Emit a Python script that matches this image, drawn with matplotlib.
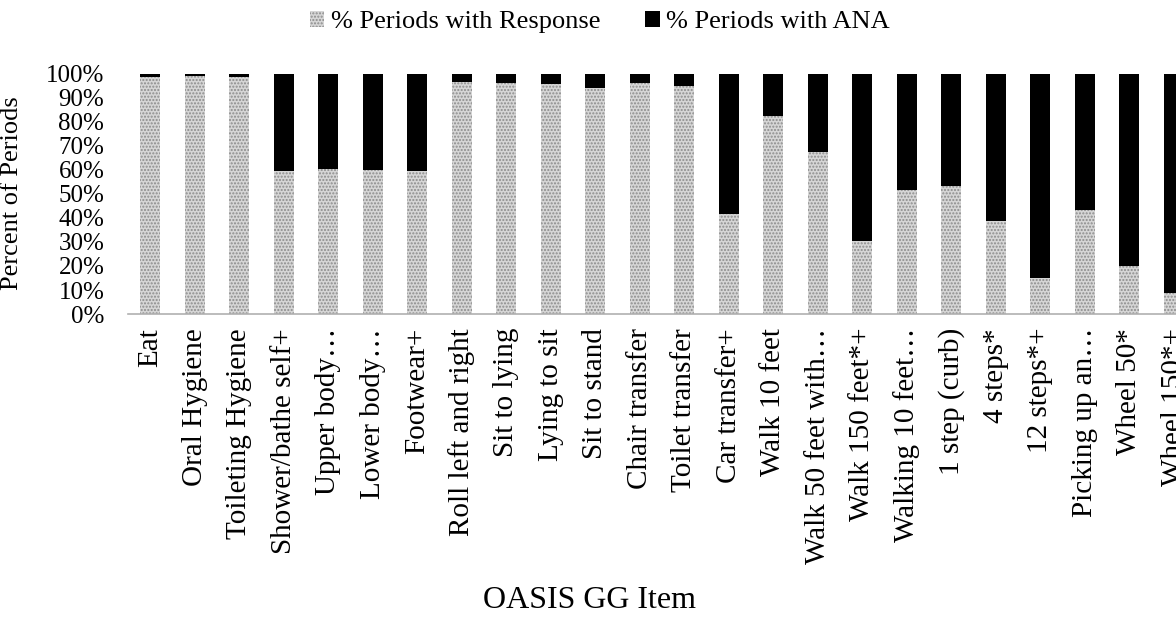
import numpy as np
import matplotlib
matplotlib.use('Agg')
import matplotlib.pyplot as plt
from matplotlib.ticker import PercentFormatter

plt.rcParams['font.family'] = ['Liberation Serif', 'DejaVu Serif']
plt.rcParams['hatch.linewidth'] = 1.0

# OASIS GG items and share of periods (%)
items = [
    'Eat', 'Oral Hygiene', 'Toileting Hygiene', 'Shower/bathe self+',
    'Upper body…', 'Lower body…', 'Footwear+', 'Roll left and right',
    'Sit to lying', 'Lying to sit', 'Sit to stand', 'Chair transfer',
    'Toilet transfer', 'Car transfer+', 'Walk 10 feet', 'Walk 50 feet with…',
    'Walk 150 feet*+', 'Walking 10 feet…', '1 step (curb)', '4 steps*',
    '12 steps*+', 'Picking up an…', 'Wheel 50*', 'Wheel 150*+',
]
pct_response = [
    98.6, 99.0, 98.9, 59.5, 60.3, 60.0, 59.7, 96.5, 96.4, 95.8, 94.2, 96.1,
    95.1, 41.8, 82.6, 67.5, 30.5, 51.5, 53.3, 38.6, 14.9, 43.5, 19.9, 8.8,
]
pct_ana = [100 - v for v in pct_response]

fig = plt.figure(figsize=(11.76, 6.26), dpi=100)
# axes run past the right edge, the last bar is clipped like in the original
ax = fig.add_axes([0.1088, 0.4984, 0.908, 0.3834])

x = np.arange(len(items))
w = 0.45
ax.bar(x, pct_response, width=w, color='#d6d6d6', edgecolor='#8c8c8c',
       hatch='.....', linewidth=0, label='% Periods with Response')
ax.bar(x, pct_ana, width=w, bottom=pct_response, color='black',
       linewidth=0, label='% Periods with ANA')

ax.set_xlim(-0.5, len(items) - 0.5)
ax.set_ylim(0, 100)
ax.set_yticks(np.arange(0, 101, 10))
ax.yaxis.set_major_formatter(PercentFormatter(decimals=0))
ax.set_xticks(x)
ax.set_xticklabels(items, rotation=90, fontsize=21)
ax.tick_params(axis='y', length=0, labelsize=18, pad=17)
ax.tick_params(axis='x', length=0, pad=10)

for s in ['top', 'right', 'left']:
    ax.spines[s].set_visible(False)
ax.spines['bottom'].set_color('#b0b0b0')
ax.spines['bottom'].set_linestyle((0, (1, 1)))
ax.spines['bottom'].set_linewidth(1.2)

ax.set_ylabel('Percent of Periods', fontsize=19)
ax.yaxis.set_label_coords(23 / 1176, 1 - 193 / 626, transform=fig.transFigure)
fig.text(590 / 1176, 1 - 600 / 626, 'OASIS GG Item', fontsize=23,
         ha='center', va='center')

fig.legend(loc='center', bbox_to_anchor=(600 / 1176, 1 - 22 / 626), ncol=2,
           frameon=False, fontsize=19, handlelength=0.55, handleheight=0.55,
           handletextpad=0.25, columnspacing=1.7)

fig.savefig('out.png', dpi=100)
